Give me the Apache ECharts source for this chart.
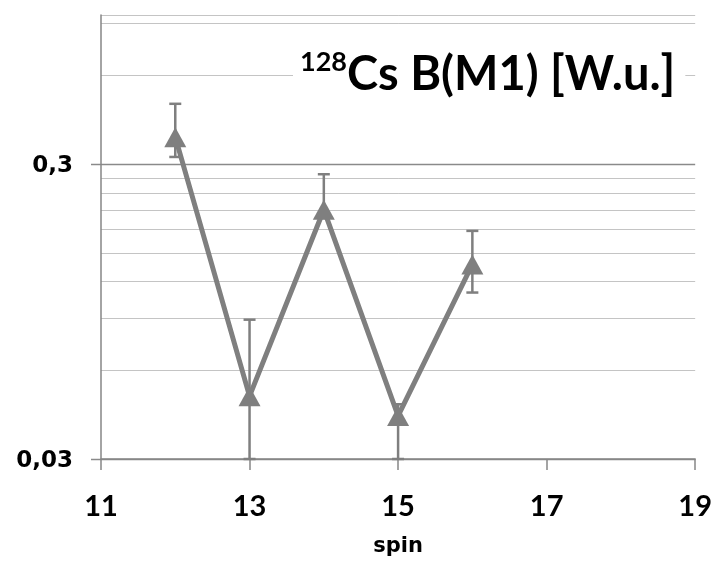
<!DOCTYPE html>
<html>
<head>
<meta charset="utf-8">
<title>128Cs B(M1)</title>
<script src="https://cdn.jsdelivr.net/npm/echarts@6/dist/echarts.min.js"></script>
<style>
  html, body { margin: 0; padding: 0; background: #fff; }
  #chart { width: 715px; height: 562px; }
</style>
</head>
<body>
<div id="chart"></div>
<script>
// Spin values and B(M1) strengths with their error limits (W.u.)
const spins = [12, 13, 14, 15, 16];
const bm1 = [0.37, 0.049, 0.21, 0.042, 0.137];
const bm1Low = [0.317, 0.03, 0.197, 0.03, 0.11];
const bm1High = [0.48, 0.089, 0.277, 0.046, 0.178];

// Axis ranges and tick labels
const X_MIN = 11, X_MAX = 19;
const xTicks = [11, 13, 15, 17, 19];
const Y_MIN = 0.03, Y_MAX = 0.96;
const yMajor = [0.03, 0.3];
const yMinor = [0.06, 0.09, 0.12, 0.15, 0.18, 0.21, 0.24, 0.27, 0.6, 0.9, Y_MAX];

const FONT = 'Lato, "Open Sans", sans-serif';
const WIDE_FONT = '"DejaVu Sans", sans-serif';
const GREY = '#7f7f7f';

const gridData = yMinor.map(v => [X_MIN, v, 0]).concat(yMajor.map(v => [X_MIN, v, 1]));
const errData = spins.map((s, i) => [s, bm1Low[i], bm1High[i]]);

const chart = echarts.init(document.getElementById('chart'), null, { renderer: 'canvas' });

chart.setOption({
  animation: false,
  backgroundColor: '#fff',
  title: {
    text: '{sup|128}{main|Cs B(M1) [W.u.]}',
    left: 293,
    top: 45,
    padding: [4, 10, 4, 7],
    backgroundColor: '#fff',
    textStyle: {
      rich: {
        sup: { fontFamily: FONT, fontWeight: 'bold', fontSize: 27, color: '#000', verticalAlign: 'top', lineHeight: 30 },
        main: { fontFamily: FONT, fontWeight: 'bold', fontSize: 47, color: '#000', lineHeight: 52 }
      }
    },
    z: 10
  },
  grid: { left: 101, right: 19, top: 15, bottom: 102 },
  xAxis: {
    type: 'value',
    min: X_MIN,
    max: X_MAX,
    name: 'spin',
    nameLocation: 'middle',
    nameGap: 77,
    nameTextStyle: { fontFamily: WIDE_FONT, fontWeight: 'bold', fontSize: 21, color: '#000' },
    axisLine: { show: true, lineStyle: { color: '#868686', width: 1.5 } },
    axisTick: { show: true, inside: false, length: 11, customValues: xTicks, lineStyle: { color: '#868686', width: 1.5 } },
    axisLabel: { customValues: xTicks, fontFamily: FONT, fontWeight: 'bold', fontSize: 29, color: '#000', margin: 33 },
    splitLine: { show: false }
  },
  yAxis: {
    type: 'log',
    logBase: 10,
    min: Y_MIN,
    max: Y_MAX,
    axisLine: { show: true, lineStyle: { color: '#868686', width: 1.5 } },
    axisTick: { show: false },
    axisLabel: { show: false },
    splitLine: { show: false }
  },
  series: [
    {
      // horizontal grid lines, with tick stubs and labels on the major ones
      type: 'custom',
      z: 0,
      silent: true,
      clip: false,
      encode: { x: 0, y: 1 },
      data: gridData,
      renderItem: function (params, api) {
        const v = api.value(1);
        const major = api.value(2) === 1;
        const p0 = api.coord([X_MIN, v]);
        const p1 = api.coord([X_MAX, v]);
        const y = Math.round(p0[1]) + 0.5;
        const children = [{
          type: 'line',
          shape: { x1: p0[0] - (major ? 10 : 0), y1: y, x2: p1[0], y2: y },
          style: { stroke: major ? '#8a8a8a' : '#c4c4c4', lineWidth: major ? 1.5 : 1 }
        }];
        if (major) {
          children.push({
            type: 'text',
            style: {
              text: String(v).replace('.', ','),
              x: p0[0] - 28,
              y: y + 2,
              align: 'right',
              verticalAlign: 'middle',
              font: 'bold 23px ' + WIDE_FONT,
              fill: '#000'
            }
          });
        }
        return { type: 'group', children: children };
      }
    },
    {
      // error bars
      type: 'custom',
      z: 2,
      silent: true,
      encode: { x: 0, y: [1, 2] },
      data: errData,
      renderItem: function (params, api) {
        const x = api.value(0);
        const lo = api.coord([x, api.value(1)]);
        const hi = api.coord([x, api.value(2)]);
        const cap = 6;
        const st = { stroke: GREY, lineWidth: 2.5 };
        return {
          type: 'group',
          children: [
            { type: 'line', shape: { x1: lo[0], y1: lo[1], x2: hi[0], y2: hi[1] }, style: st },
            { type: 'line', shape: { x1: hi[0] - cap, y1: hi[1], x2: hi[0] + cap, y2: hi[1] }, style: st },
            { type: 'line', shape: { x1: lo[0] - cap, y1: lo[1], x2: lo[0] + cap, y2: lo[1] }, style: st }
          ]
        };
      }
    },
    {
      type: 'line',
      z: 3,
      data: spins.map((s, i) => [s, bm1[i]]),
      symbol: 'triangle',
      symbolSize: [22, 20],
      showAllSymbol: true,
      lineStyle: { color: GREY, width: 5 },
      itemStyle: { color: GREY }
    }
  ]
});
</script>
</body>
</html>
